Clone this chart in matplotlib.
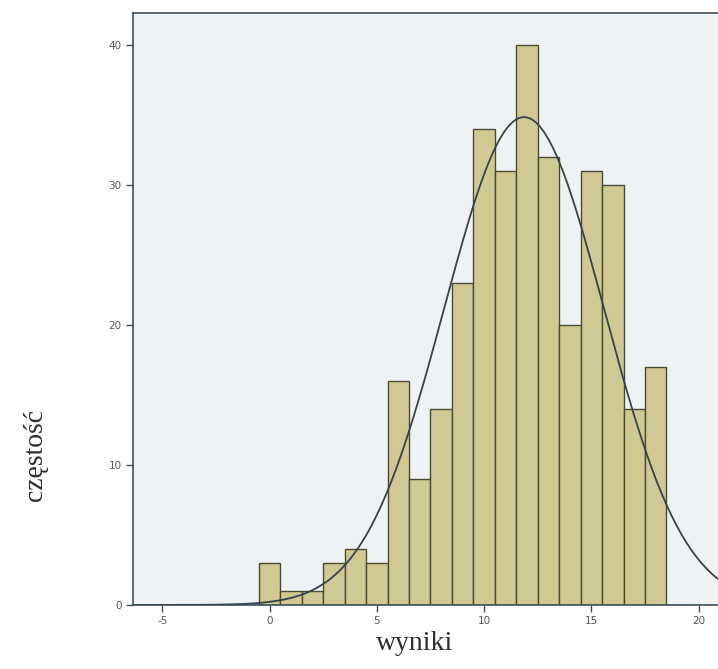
import matplotlib
matplotlib.use("Agg")
import matplotlib.pyplot as plt
import numpy as np

plt.rcParams["axes.unicode_minus"] = False

# ── histogram data (bins of width 1, centred on integers) ─────────────────────
bin_centres = [0, 1, 2, 3, 4, 5, 6, 7, 8, 9, 10, 11, 12, 13, 14, 15, 16, 17, 18]
counts      = [3, 1, 1, 3, 4, 3, 16, 9, 14, 23, 34, 31, 40, 32, 20, 31, 30, 14, 17]
x_ticks     = [-5, 0, 5, 10, 15, 20]
y_ticks     = [0, 10, 20, 30, 40]

BAR_FILL  = "#d0c993"
BAR_EDGE  = "#4b4a33"
PANEL_BG  = "#eff2f4"
LINE_COL  = "#36434c"
SPINE_COL = "#3d4f5a"

fig = plt.figure(figsize=(7.18, 6.69), dpi=100)
ax = fig.add_axes([0.185, 0.0957, 0.815, 0.885])
ax.set_facecolor(PANEL_BG)

ax.bar(bin_centres, counts, width=1.0, color=BAR_FILL,
       edgecolor=BAR_EDGE, linewidth=1.0, zorder=2)

# fitted normal curve scaled to counts
c = np.array(counts, dtype=float)
xc = np.array(bin_centres, dtype=float)
n = c.sum()
mu = (c * xc).sum() / n
sd = np.sqrt((c * (xc - mu) ** 2).sum() / (n - 1))
xs = np.linspace(-7, 22, 400)
ys = n * 1.0 / (sd * np.sqrt(2 * np.pi)) * np.exp(-0.5 * ((xs - mu) / sd) ** 2)
ax.plot(xs, ys, color=LINE_COL, linewidth=1.3, zorder=3)

ax.set_xlim(-6.37, 20.9)
ax.set_ylim(0, 42.3)
ax.set_xticks(x_ticks)
ax.set_yticks(y_ticks)
ax.tick_params(direction="out", length=5, width=1, color=SPINE_COL,
               labelsize=7.5, labelcolor="#555555", pad=3)

for side in ("left", "top", "bottom"):
    ax.spines[side].set_color(SPINE_COL)
    ax.spines[side].set_linewidth(1.2)
ax.spines["right"].set_visible(False)

fig.text(0.578, 0.02, "wyniki", family="Liberation Serif",
         fontsize=20, color="#2e2e2e", ha="center", va="bottom")
fig.text(0.049, 0.32, "częstość", family="Liberation Serif",
         fontsize=20, color="#2e2e2e", ha="center", va="center", rotation=90)

fig.savefig("out.png", dpi=100)
